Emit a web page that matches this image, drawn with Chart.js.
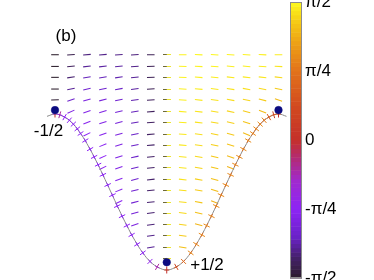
<!DOCTYPE html>
<html><head><meta charset="utf-8">
<script src="https://cdn.jsdelivr.net/npm/chart.js@4.4.1/dist/chart.umd.min.js"></script>
<style>html,body{margin:0;padding:0;background:#fff;overflow:hidden}canvas{display:block}</style>
</head><body>
<canvas id="c" width="374" height="280"></canvas>
<script>
// ---------- data ----------
const COLS = [-7,-6,-5,-4,-3,-2,-1,0,1,2,3,4,5,6,7];
const ROWS = [2.76,2.61,2.47,2.32,2.18,2.03,1.89,1.74,1.60,1.45,1.31,1.16,1.02,0.87,0.73,0.58,0.44,0.29,0.15];
// director colour value (units of pi/2), null = outside the domain
const FIELD_C = [
 [-1.0,-0.92,-0.82,-0.8,-0.8,-0.82,-0.9,1,0.98,0.99,0.99,0.98,0.98,0.97,0.96],
 [-1.0,-0.88,-0.78,-0.76,-0.76,-0.8,-0.9,1,0.98,0.98,0.98,0.97,0.97,0.96,0.94],
 [-1.0,-0.84,-0.72,-0.72,-0.74,-0.78,-0.9,1,0.98,0.97,0.96,0.95,0.95,0.94,0.9],
 [-1.0,-0.78,-0.66,-0.67,-0.7,-0.76,-0.9,1,0.97,0.96,0.95,0.93,0.92,0.9,0.86],
 [-0.98,-0.68,-0.6,-0.62,-0.66,-0.74,-0.88,1,0.97,0.95,0.93,0.91,0.89,0.86,0.8],
 [null,-0.58,-0.56,-0.58,-0.64,-0.72,-0.88,1,0.96,0.94,0.92,0.89,0.86,0.8,null],
 [null,null,-0.53,-0.56,-0.62,-0.72,-0.87,1,0.96,0.93,0.9,0.87,0.83,null,null],
 [null,null,-0.5,-0.54,-0.6,-0.7,-0.87,1,0.95,0.92,0.88,0.85,0.8,null,null],
 [null,null,null,-0.52,-0.58,-0.7,-0.86,1,0.95,0.91,0.87,0.83,null,null,null],
 [null,null,null,-0.5,-0.57,-0.69,-0.86,1,0.94,0.9,0.85,0.8,null,null,null],
 [null,null,null,-0.48,-0.56,-0.68,-0.86,1,0.94,0.89,0.84,0.77,null,null,null],
 [null,null,null,null,-0.54,-0.67,-0.85,1,0.93,0.87,0.82,null,null,null,null],
 [null,null,null,null,-0.53,-0.66,-0.85,1,0.92,0.86,0.8,null,null,null,null],
 [null,null,null,null,-0.52,-0.65,-0.84,1,0.91,0.84,0.76,null,null,null,null],
 [null,null,null,null,null,-0.63,-0.84,1,0.9,0.82,null,null,null,null,null],
 [null,null,null,null,null,-0.6,-0.83,1,0.88,0.78,null,null,null,null,null],
 [null,null,null,null,null,null,-0.8,1,0.86,null,null,null,null,null,null],
 [null,null,null,null,null,null,-0.78,1,0.82,null,null,null,null,null,null],
 [null,null,null,null,null,null,null,1,null,null,null,null,null,null,null]
];
// in-plane tilt of the drawn segments (degrees, + = rising to the right)
const FIELD_T = [
 [0,3,5,5,4,3,1,0,-1,-2,-3,-3,-3,-2,-1],
 [0,5,7,7,6,4,2,0,-2,-3,-4,-5,-5,-4,-3],
 [0,8,10,9,8,6,2,0,-2,-4,-6,-7,-7,-7,-7],
 [0,12,13,12,10,7,3,0,-3,-5,-7,-9,-10,-11,-12],
 [2,18,16,14,12,8,3,0,-3,-6,-8,-10,-12,-14,-18],
 [null,24,19,16,13,9,4,0,-4,-7,-9,-12,-15,-20,null],
 [null,null,22,18,15,10,4,0,-4,-7,-10,-13,-18,null,null],
 [null,null,26,20,16,11,5,0,-4,-8,-11,-15,-22,null,null],
 [null,null,null,22,17,12,5,0,-5,-8,-12,-17,null,null,null],
 [null,null,null,24,18,12,5,0,-5,-9,-13,-19,null,null,null],
 [null,null,null,27,19,13,6,0,-5,-9,-14,-22,null,null,null],
 [null,null,null,null,20,14,6,0,-6,-10,-16,null,null,null,null],
 [null,null,null,null,22,14,6,0,-6,-10,-18,null,null,null,null],
 [null,null,null,null,25,15,7,0,-6,-11,-21,null,null,null,null],
 [null,null,null,null,null,16,7,0,-7,-13,null,null,null,null,null],
 [null,null,null,null,null,18,8,0,-7,-15,null,null,null,null,null],
 [null,null,null,null,null,null,8,0,-8,null,null,null,null,null,null],
 [null,null,null,null,null,null,10,0,-9,null,null,null,null,null,null],
 [null,null,null,null,null,null,null,0,null,null,null,null,null,null,null]
];
// boundary curve
const CURVE_X = [-7.5,-7,-6.5,-6,-5.5,-5,-4.5,-4,-3.5,-3,-2.5,-2,-1.5,-1,-0.5,0,0.5,1,1.5,2,2.5,3,3.5,4,4.5,5,5.5,6,6.5,7,7.5];
const CURVE_Y = [1.97,2.00,1.97,1.90,1.78,1.62,1.43,1.22,1.00,0.78,0.57,0.38,0.22,0.10,0.03,0.00,0.03,0.10,0.22,0.38,0.57,0.78,1.00,1.22,1.43,1.62,1.78,1.90,1.97,2.00,1.97];
// boundary director marks
const BND_X = [-7,-6.7,-6.4,-6.1,-5.85,-5.6,-5.4,-5.1,-4.8,-4.55,-4.3,-4,-3.7,-3.4,-3.1,-2.8,-2.5,-2.2,-1.85,-1.5,-1.05,-0.6,0,
               0.6,1.05,1.5,1.85,2.2,2.5,2.8,3.1,3.4,3.7,4,4.3,4.55,4.8,5.1,5.4,5.6,5.85,6.1,6.4,6.7,7];
const BND_Y = [2,1.99,1.96,1.92,1.87,1.81,1.75,1.66,1.55,1.45,1.35,1.22,1.09,0.96,0.82,0.69,0.57,0.45,0.33,0.22,0.11,0.04,0,
               0.04,0.11,0.22,0.33,0.45,0.57,0.69,0.82,0.96,1.09,1.22,1.35,1.45,1.55,1.66,1.75,1.81,1.87,1.92,1.96,1.99,2];
const BND_TAN = [0,16,30,41,47,52,55,59,61,63,64,65,65,65,65,64,63,61,58,54,45,30,0,
                 -30,-45,-54,-58,-61,-63,-64,-65,-65,-65,-65,-64,-63,-61,-59,-55,-52,-47,-41,-30,-16,0];
const BND_CT = [-0.3,-0.45,-0.5,-0.5,-0.5,-0.5,-0.5,-0.5,-0.5,-0.5,-0.5,-0.5,-0.5,-0.5,-0.5,-0.5,-0.5,-0.5,-0.5,-0.5,-0.45,-0.3,0.15,
                0.3,0.4,0.45,0.45,0.45,0.45,0.45,0.45,0.45,0.45,0.45,0.45,0.45,0.45,0.45,0.45,0.45,0.45,0.45,0.4,0.35,0.3];
const BND_CN = [0,-0.2,-0.5,-0.5,-0.5,-0.5,-0.5,-0.5,-0.5,-0.5,-0.5,-0.5,-0.5,-0.5,-0.5,-0.5,-0.5,-0.5,-0.5,-0.5,-0.45,-0.2,0,
                0.2,0.45,0.6,0.6,0.6,0.6,0.6,0.6,0.6,0.6,0.6,0.6,0.6,0.6,0.6,0.6,0.6,0.6,0.55,0.3,0.15,0];
// defects
const DEFECT_X = [-7,0,7];
const DEFECT_Y = [2.05,0.10,2.05];
// text
const LABELS = ['(b)','-1/2','+1/2'];
const LABEL_X = [-6.31,-7.41,2.52];
const LABEL_Y = [2.99,1.78,0.06];
// colour bar ticks
const CB_VALS = [-1,-0.5,0,0.5,1];
const CB_LABELS = ['-π/2','-π/4','0','π/4','π/2'];

// ---------- colour map ----------
const CMAP = [
 [-1.0,[43,29,43]],[-0.85,[69,33,106]],[-0.7,[106,34,200]],[-0.5,[141,36,245]],
 [-0.3,[160,42,208]],[-0.15,[176,43,128]],[0.0,[196,48,42]],[0.25,[210,74,31]],
 [0.5,[226,114,27]],[0.7,[237,160,22]],[0.85,[245,200,21]],[1.0,[253,250,32]]];
function cmap(v){
  v=Math.max(-1,Math.min(1,v));
  for(let k=1;k<CMAP.length;k++){
    if(v<=CMAP[k][0]){
      const [a,ca]=CMAP[k-1],[b,cb]=CMAP[k];const t=(v-a)/(b-a);
      return 'rgb('+ca.map((q,i)=>Math.round(q+(cb[i]-q)*t)).join(',')+')';
    }
  }
  return 'rgb(253,250,32)';
}

// ---------- build datasets ----------
const fieldPts=[], centerPts=[];
ROWS.forEach((y,j)=>COLS.forEach((x,i)=>{
  const c=FIELD_C[j][i]; if(c==null) return;
  const p={x:x,y:y,c:c,r:-FIELD_T[j][i]};
  (x===0?centerPts:fieldPts).push(p);
}));
const bndT=BND_X.map((x,i)=>({x:x,y:BND_Y[i],c:BND_CT[i],r:BND_TAN[i]}));
const bndN=BND_X.map((x,i)=>({x:x,y:BND_Y[i],c:BND_CN[i],r:BND_TAN[i]+90}));

// centre-column glyph: dark half + yellow half
const glyph=document.createElement('canvas');glyph.width=8;glyph.height=1;
(function(){const g=glyph.getContext('2d');g.fillStyle='#6e6838';g.fillRect(0,0,4,1);g.fillStyle='#ece634';g.fillRect(4,0,4,1);})();

Chart.defaults.font.family='"Liberation Sans", Arial, sans-serif';
Chart.defaults.color='#000';

const overlay={
  id:'overlay',
  afterDraw(chart){
    const ctx=chart.ctx, cb=chart.scales.cb, xs=chart.scales.x, ys=chart.scales.y;
    const right=chart.chartArea.right, left=right-12;
    const N=64;
    ctx.save();
    for(let k=0;k<N;k++){
      const v0=-1+2*k/N, v1=-1+2*(k+1)/N;
      const y0=cb.getPixelForValue(v0), y1=cb.getPixelForValue(v1);
      ctx.fillStyle=cmap((v0+v1)/2);
      ctx.fillRect(left,y1,right-left,y0-y1+0.5);
    }
    ctx.strokeStyle='#8c8c8c';ctx.lineWidth=1;
    const yt=cb.getPixelForValue(1), yb=cb.getPixelForValue(-1);
    ctx.strokeRect(left+0.5,yt+0.5,right-left-1,yb-yt-1);
    ctx.fillStyle='#000';ctx.font='17px "Liberation Sans", Arial, sans-serif';
    ctx.textAlign='center';ctx.textBaseline='middle';
    LABELS.forEach((t,i)=>ctx.fillText(t,xs.getPixelForValue(LABEL_X[i]),ys.getPixelForValue(LABEL_Y[i])));
    ctx.restore();
  }
};

const segOpts=(radius,width)=>({
  pointStyle:'line', pointRadius:radius, pointHoverRadius:radius, pointBorderWidth:width,
  pointBorderColor:(c)=>c.raw?cmap(c.raw.c):'#000',
  pointRotation:(c)=>c.raw?c.raw.r:0, showLine:false
});

new Chart(document.getElementById('c'),{
  type:'scatter',
  data:{datasets:[
    Object.assign({data:fieldPts,order:4},segOpts(3.8,1.05)),
    {data:centerPts,order:4,pointStyle:glyph,pointRotation:(c)=>c.raw?c.raw.r:0,pointRadius:4,showLine:false},
    {type:'line',data:CURVE_X.map((x,i)=>({x:x,y:CURVE_Y[i]})),borderColor:'#8a8a8a',borderWidth:1,pointRadius:0,tension:0.4,fill:false,order:3},
    Object.assign({data:bndT,order:2},segOpts(2.5,1)),
    Object.assign({data:bndN,order:1},segOpts(3.5,1)),
    {data:DEFECT_X.map((x,i)=>({x:x,y:DEFECT_Y[i]})),pointStyle:'circle',pointRadius:3.8,backgroundColor:'#0b0b80',borderColor:'#0b0b80',pointBorderWidth:0.5,order:0}
  ]},
  options:{
    responsive:false, animation:false, devicePixelRatio:1,
    layout:{autoPadding:false,padding:{left:0,top:2,bottom:2,right:0}},
    plugins:{legend:{display:false},tooltip:{enabled:false}},
    events:[],
    scales:{
      x:{type:'linear',display:false,min:-10.445,max:8.472},
      y:{type:'linear',display:false,min:-0.1026,max:3.436},
      cb:{type:'linear',position:'right',min:-1,max:1,
        grid:{display:false,drawTicks:false},border:{display:false},
        afterBuildTicks:(s)=>{s.ticks=CB_VALS.map(v=>({value:v}));},
        afterFit:(s)=>{s.width=72;s.paddingTop=0;s.paddingBottom=0;},
        ticks:{padding:3,color:'#000',font:{size:17},autoSkip:false,callback:(v,i)=>CB_LABELS[i]}
      }
    }
  },
  plugins:[overlay]
});
</script>
</body></html>
